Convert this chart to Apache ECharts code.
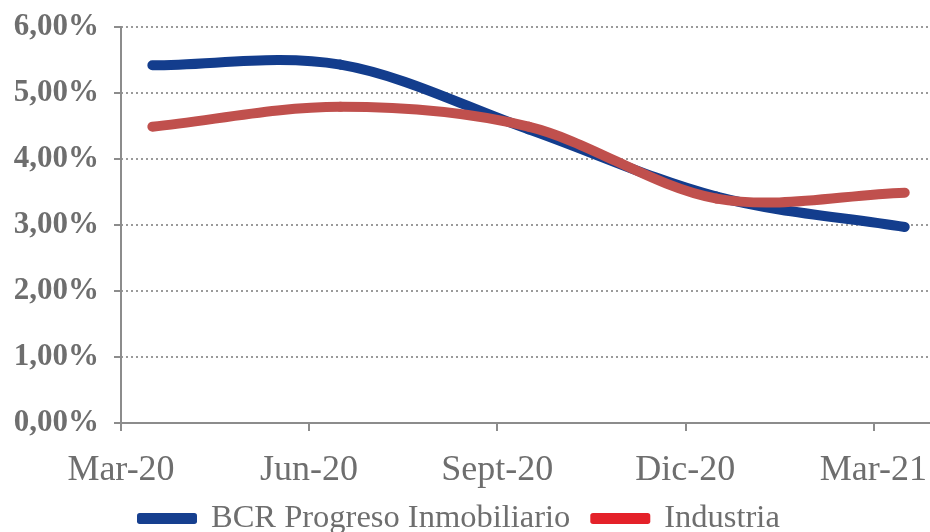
<!DOCTYPE html>
<html>
<head>
<meta charset="utf-8">
<script src="https://cdn.jsdelivr.net/npm/echarts@6/dist/echarts.min.js"></script>
<style>
  html, body { margin: 0; padding: 0; background: #ffffff; }
  #chart { width: 930px; height: 532px; }
</style>
</head>
<body>
<div id="chart"></div>
<script>
// Quarterly points, placed mid-month on a month-based axis (0 = start of Mar-20)
const monthPositions = [0.5, 3.5, 6.5, 9.5, 12.5];
const tickLabels = ['Mar-20', 'Jun-20', 'Sept-20', 'Dic-20', 'Mar-21'];
const seriesNames = ['BCR Progreso Inmobiliario', 'Industria'];
const bcrValues = [5.42, 5.43, 4.45, 3.43, 2.97];
const industriaValues = [4.49, 4.79, 4.49, 3.40, 3.49];

const textGray = '#6e6e6e';
const axisGray = '#8c8c8c';
const serif = '"Liberation Serif", "DejaVu Serif", serif';

function pairs(values) {
  return values.map((v, i) => [monthPositions[i], v]);
}

// Smoothed line drawn segment by segment as cubic Béziers with
// Catmull-Rom tangents (neighbours' difference / 6), endpoints aimed at their neighbour.
function smoothLineRenderer(values, strokeColor) {
  return function (params, api) {
    const i = params.dataIndex;
    const n = values.length;
    if (i >= n - 1) return null;
    const p = values.map((v, j) => api.coord([monthPositions[j], v]));
    const p0 = p[i], p1 = p[i + 1];
    const prev = i > 0 ? p[i - 1] : null;
    const next = i + 2 < n ? p[i + 2] : null;
    let c1x, c1y, c2x, c2y;
    if (prev) {
      c1x = p0[0] + (p1[0] - prev[0]) / 6;
      c1y = p0[1] + (p1[1] - prev[1]) / 6;
    } else {
      c1x = p0[0] + (p1[0] - p0[0]) / 3;
      c1y = p0[1] + (p1[1] - p0[1]) / 3;
    }
    if (next) {
      c2x = p1[0] - (next[0] - p0[0]) / 6;
      c2y = p1[1] - (next[1] - p0[1]) / 6;
    } else {
      c2x = p1[0] - (p1[0] - p0[0]) / 3;
      c2y = p1[1] - (p1[1] - p0[1]) / 3;
    }
    return {
      type: 'bezierCurve',
      shape: {
        x1: p0[0], y1: p0[1],
        cpx1: c1x, cpy1: c1y,
        cpx2: c2x, cpy2: c2y,
        x2: p1[0], y2: p1[1]
      },
      style: {
        stroke: strokeColor,
        fill: null,
        lineWidth: 10,
        lineCap: 'round',
        lineJoin: 'round'
      }
    };
  };
}

const chart = echarts.init(document.getElementById('chart'), null, { renderer: 'canvas' });

chart.setOption({
  animation: false,
  backgroundColor: '#ffffff',
  grid: { left: 121, top: 27, right: 0, bottom: 109, containLabel: false },
  xAxis: {
    type: 'value',
    min: 0,
    max: 12.9,
    interval: 3,
    axisLine: { show: true, onZero: false, lineStyle: { color: axisGray, width: 2 } },
    axisTick: { show: true, length: 8, lineStyle: { color: axisGray, width: 2 } },
    splitLine: { show: false },
    axisLabel: {
      margin: 30,
      color: textGray,
      fontFamily: serif,
      fontSize: 36,
      showMaxLabel: false,
      formatter: function (v) {
        const idx = Math.round(v / 3);
        return (Math.abs(v - idx * 3) < 1e-6 && tickLabels[idx]) ? tickLabels[idx] : '';
      }
    }
  },
  yAxis: {
    type: 'value',
    min: 0,
    max: 6,
    interval: 1,
    axisLine: { show: true, lineStyle: { color: axisGray, width: 2 } },
    axisTick: { show: true, length: 7, lineStyle: { color: axisGray, width: 2 } },
    splitLine: { show: true, lineStyle: { color: '#9a9a9a', width: 2, type: [2, 3] } },
    axisLabel: {
      margin: 22,
      color: textGray,
      fontFamily: serif,
      fontWeight: 'bold',
      fontSize: 31,
      formatter: function (v) { return v.toFixed(2).replace('.', ',') + '%'; }
    }
  },
  legend: {
    left: 132,
    top: 497,
    itemWidth: 60,
    itemHeight: 11,
    itemGap: 20,
    icon: 'roundRect',
    textStyle: {
      color: textGray,
      fontFamily: serif,
      fontSize: 32.5,
      padding: [0, 0, 0, 9]
    },
    data: seriesNames
  },
  series: [
    {
      name: seriesNames[0],
      type: 'custom',
      coordinateSystem: 'cartesian2d',
      data: pairs(bcrValues),
      encode: { x: 0, y: 1 },
      itemStyle: { color: '#163f8f' },
      renderItem: smoothLineRenderer(bcrValues, '#133d8d'),
      z: 2
    },
    {
      name: seriesNames[1],
      type: 'custom',
      coordinateSystem: 'cartesian2d',
      data: pairs(industriaValues),
      encode: { x: 0, y: 1 },
      itemStyle: { color: '#e42129' },
      renderItem: smoothLineRenderer(industriaValues, '#c0504d'),
      z: 3
    }
  ]
});
</script>
</body>
</html>
